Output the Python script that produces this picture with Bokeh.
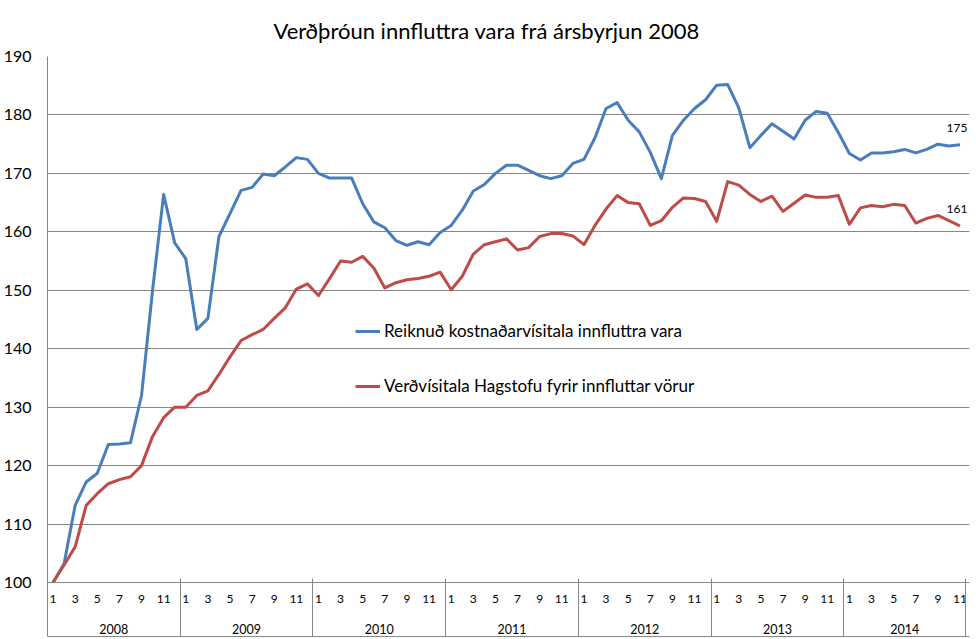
import numpy as np
from bokeh.plotting import figure
from bokeh.models import (Range1d, LinearAxis, FixedTicker, Legend, LegendItem,
                          LabelSet, ColumnDataSource)
from bokeh.core.properties import value
from bokeh.embed import file_html
from bokeh.resources import INLINE

chart_title = "Verðþróun innfluttra vara frá ársbyrjun 2008"
years = ["2008", "2009", "2010", "2011", "2012", "2013", "2014"]
months_per_year = [12, 12, 12, 12, 12, 12, 11]
month_labels = ["1", "3", "5", "7", "9", "11"]
y_ticks = [100, 110, 120, 130, 140, 150, 160, 170, 180, 190]
series_names = ["Reiknuð kostnaðarvísitala innfluttra vara",
                "Verðvísitala Hagstofu fyrir innfluttar vörur"]

kostnadarvisitala = [
    100.0, 103.2, 113.2, 117.2, 118.7, 123.6, 123.7, 123.9, 132.0, 150.0, 166.4, 158.1,
    155.4, 143.3, 145.2, 159.2, 163.1, 167.1, 167.6, 169.9, 169.6, 171.1, 172.7, 172.4,
    170.0, 169.2, 169.2, 169.2, 164.8, 161.7, 160.7, 158.5, 157.7, 158.3, 157.8, 159.9,
    161.1, 163.7, 167.0, 168.1, 170.0, 171.4, 171.4, 170.5, 169.6, 169.1, 169.6, 171.7,
    172.4, 176.1, 181.1, 182.1, 179.1, 177.1, 173.6, 169.1, 176.5, 179.1, 181.1, 182.6,
    185.1, 185.2, 181.2, 174.4, 176.5, 178.5, 177.2, 175.9, 179.1, 180.6, 180.3, 177.0,
    173.4, 172.3, 173.5, 173.5, 173.7, 174.1, 173.5, 174.1, 175.0, 174.7, 174.9,
]
hagstofa = [
    100.0, 103.0, 106.1, 113.2, 115.2, 116.9, 117.6, 118.1, 120.0, 125.0, 128.2, 130.0,
    130.0, 132.0, 132.8, 135.6, 138.6, 141.4, 142.4, 143.3, 145.2, 147.0, 150.2, 151.1,
    149.1, 152.0, 155.0, 154.8, 155.8, 153.8, 150.4, 151.3, 151.8, 152.0, 152.4, 153.1,
    150.1, 152.4, 156.2, 157.8, 158.3, 158.8, 156.9, 157.3, 159.2, 159.7, 159.7, 159.3,
    157.8, 161.1, 163.9, 166.2, 165.0, 164.8, 161.1, 161.9, 164.2, 165.8, 165.7, 165.2,
    161.8, 168.6, 168.0, 166.4, 165.2, 166.1, 163.5, 164.9, 166.3, 165.9, 165.9, 166.2,
    161.3, 164.1, 164.5, 164.3, 164.7, 164.5, 161.5, 162.3, 162.8, 161.9, 161.0,
]

BLUE = "#4A7EBB"
RED = "#BE4B48"
GRID = "#878787"
FONT = "Lato"

n = sum(months_per_year)
x = list(range(n))

# tick positions for the two-level category axis
month_ticks, month_over = [], {}
year_ticks, year_over = [], {}
boundaries = [-0.5]
start = 0
for yr, m in zip(years, months_per_year):
    for k in range(0, m, 2):
        month_ticks.append(start + k)
        month_over[start + k] = month_labels[k // 2]
    c = start + (m - 1) / 2.0
    year_ticks.append(c)
    year_over[c] = yr
    start += m
    boundaries.append(start - 0.5)

p = figure(width=976, height=639, output_backend="svg", toolbar_location=None,
           x_range=Range1d(-0.5, n - 0.5 + 0.36), y_range=Range1d(100, 190),
           x_axis_type=None, min_border_left=47, min_border_right=7,
           min_border_top=56, min_border_bottom=57)
p.background_fill_color = "white"
p.border_fill_color = "white"
p.outline_line_color = None

p.title.text = chart_title
p.title.align = "left"
p.title.offset = 226
p.title.text_font = FONT
p.title.text_font_size = "22px"
p.title.text_font_style = "normal"
p.title.text_color = "black"
p.title.standoff = 26

# y axis
p.yaxis.ticker = FixedTicker(ticks=y_ticks)
p.yaxis.axis_line_color = GRID
p.yaxis.major_tick_out = 0
p.yaxis.major_tick_in = 0
p.yaxis.minor_tick_out = 0
p.yaxis.minor_tick_in = 0
p.yaxis.major_label_standoff = 16
p.yaxis.major_label_text_font = FONT
p.yaxis.major_label_text_font_size = "16px"
p.yaxis.major_label_text_color = "black"
p.ygrid.ticker = FixedTicker(ticks=y_ticks)
p.ygrid.grid_line_color = GRID
p.xgrid.grid_line_color = None

# month axis
ax_m = LinearAxis(ticker=FixedTicker(ticks=month_ticks, minor_ticks=[]),
                  major_label_overrides=month_over,
                  major_tick_out=0, major_tick_in=0,
                  minor_tick_in=0, minor_tick_out=0,
                  axis_line_color=GRID,
                  major_label_standoff=12,
                  major_label_text_font=FONT, major_label_text_font_size="12px",
                  major_label_text_color="black")
p.add_layout(ax_m, "below")

# year axis
ax_y = LinearAxis(ticker=FixedTicker(ticks=year_ticks, minor_ticks=[]),
                  major_label_overrides=year_over,
                  major_tick_out=0, major_tick_in=0,
                  minor_tick_in=0, minor_tick_out=0,
                  axis_line_color=None,
                  major_label_standoff=18,
                  major_label_text_font=FONT, major_label_text_font_size="12.5px",
                  major_label_text_color="black")
p.add_layout(ax_y, "below")

# bottom rule with the year separators pointing up
ax_b = LinearAxis(ticker=FixedTicker(ticks=[], minor_ticks=boundaries),
                  major_tick_out=0, major_tick_in=0,
                  minor_tick_in=58, minor_tick_out=0,
                  minor_tick_line_color=GRID,
                  axis_line_color=GRID, major_label_text_font_size="0px",
                  major_label_standoff=0)
p.add_layout(ax_b, "below")

r1 = p.line(x, kostnadarvisitala, line_color=BLUE, line_width=3, line_join="round")
r2 = p.line(x, hagstofa, line_color=RED, line_width=3, line_join="round")

legend = Legend(items=[LegendItem(label=series_names[0], renderers=[r1]),
                       LegendItem(label=series_names[1], renderers=[r2])],
                location=(308, 186), orientation="vertical",
                padding=0, margin=0, spacing=34,
                glyph_width=25, glyph_height=20, label_height=20,
                label_standoff=4, background_fill_alpha=0,
                border_line_color=None,
                label_text_font=FONT, label_text_font_size="17px",
                label_text_color="black")
p.add_layout(legend)

end_src = ColumnDataSource(dict(
    x=[n - 1, n - 1],
    y=[kostnadarvisitala[-1], hagstofa[-1]],
    t=["%d" % round(kostnadarvisitala[-1]), "%d" % round(hagstofa[-1])]))
p.add_layout(LabelSet(x="x", y="y", text="t", source=end_src,
                      text_align="center", text_baseline="middle",
                      x_offset=-3, y_offset=17,
                      text_font=value(FONT), text_font_size=value("12px"),
                      text_color="black"))

open("out.html", "w").write(file_html(p, INLINE))
